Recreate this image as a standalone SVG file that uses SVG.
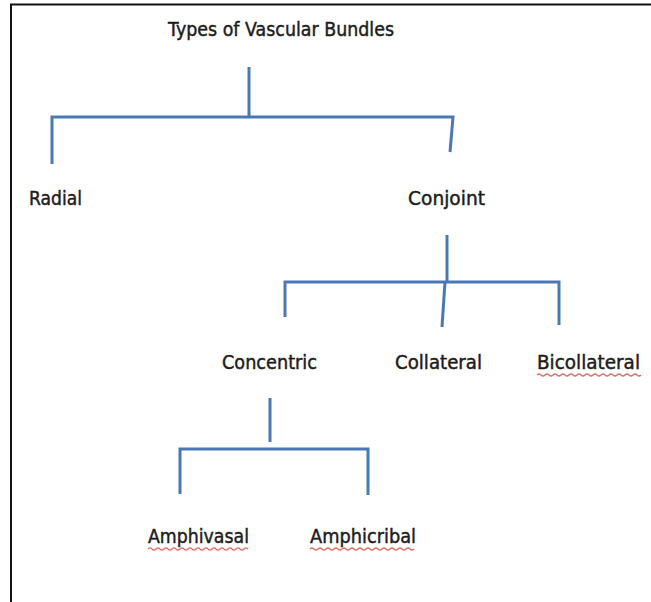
<svg xmlns="http://www.w3.org/2000/svg" width="651" height="602" viewBox="0 0 651 602">
<style>
.lbl{font-family:"DejaVu Sans","Liberation Sans",sans-serif;font-size:19px;fill:#1c1c1c;stroke:#1c1c1c;stroke-width:0.45}
.ln{stroke:#4a78b6;stroke-width:3;fill:none;stroke-linecap:butt;stroke-linejoin:miter}
.sq{stroke:#d83a3a;stroke-width:1.2;fill:none;opacity:0.75}
</style>
<rect width="651" height="602" fill="#ffffff"/>
<g id="frame">
<line x1="10" y1="4.5" x2="651" y2="4.5" stroke="#111" stroke-width="2"/>
<line x1="11" y1="4" x2="11" y2="602" stroke="#111" stroke-width="2"/>
</g>
<g id="connectors">
<path class="ln" d="M249,67 V117"/>
<path class="ln" d="M52,164 V117 H453 L450,152"/>
<path class="ln" d="M447,235 V281"/>
<path class="ln" d="M285,317 V282 H559 V325"/>
<path class="ln" d="M445,282 L442,327"/>
<path class="ln" d="M270,398 V442"/>
<path class="ln" d="M180,494 V449 H368 V495"/>
</g>
<g id="n-title"><text class="lbl" x="168" y="36" textLength="226" lengthAdjust="spacingAndGlyphs">Types of Vascular Bundles</text></g>
<g id="n-radial"><text class="lbl" x="29" y="205" textLength="53" lengthAdjust="spacingAndGlyphs">Radial</text></g>
<g id="n-conjoint"><text class="lbl" x="408" y="205" textLength="77" lengthAdjust="spacingAndGlyphs">Conjoint</text></g>
<g id="n-concentric"><text class="lbl" x="222" y="369" textLength="95" lengthAdjust="spacingAndGlyphs">Concentric</text></g>
<g id="n-collateral"><text class="lbl" x="395" y="369" textLength="87" lengthAdjust="spacingAndGlyphs">Collateral</text></g>
<g id="n-bicollateral"><text class="lbl" x="537" y="369" textLength="103" lengthAdjust="spacingAndGlyphs">Bicollateral</text>
<path class="sq" d="M537,375 q2,-2 4,0 t4,0 t4,0 t4,0 t4,0 t4,0 t4,0 t4,0 t4,0 t4,0 t4,0 t4,0 t4,0 t4,0 t4,0 t4,0 t4,0 t4,0 t4,0 t4,0 t4,0 t4,0 t4,0 t4,0 t4,0 t4,0"/></g>
<g id="n-amphivasal"><text class="lbl" x="148" y="543" textLength="101" lengthAdjust="spacingAndGlyphs">Amphivasal</text>
<path class="sq" d="M148,549 q2,-2 4,0 t4,0 t4,0 t4,0 t4,0 t4,0 t4,0 t4,0 t4,0 t4,0 t4,0 t4,0 t4,0 t4,0 t4,0 t4,0 t4,0 t4,0 t4,0 t4,0 t4,0 t4,0 t4,0 t4,0 t4,0"/></g>
<g id="n-amphicribal"><text class="lbl" x="310" y="543" textLength="106" lengthAdjust="spacingAndGlyphs">Amphicribal</text>
<path class="sq" d="M310,549 q2,-2 4,0 t4,0 t4,0 t4,0 t4,0 t4,0 t4,0 t4,0 t4,0 t4,0 t4,0 t4,0 t4,0 t4,0 t4,0 t4,0 t4,0 t4,0 t4,0 t4,0 t4,0 t4,0 t4,0 t4,0 t4,0 t4,0"/></g>
</svg>
